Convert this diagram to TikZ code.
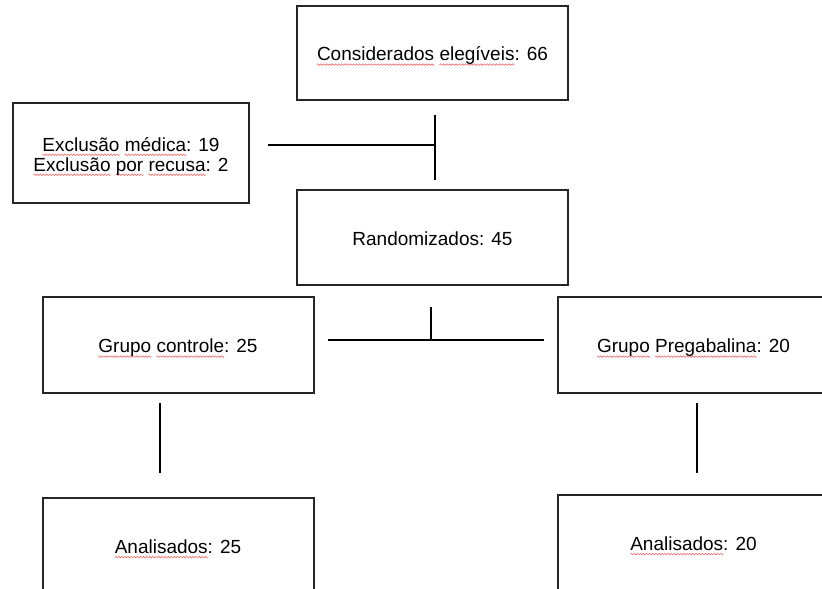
\documentclass[tikz,border=0pt]{standalone}
\usepackage{fontspec}
\setmainfont{Liberation Sans}
\definecolor{sqred}{RGB}{232,110,110}
\newsavebox\wavebox
\newlength\sqlen
\newcommand\sq[1]{\setbox0\hbox{#1}\sqlen=\wd0\relax\rlap{\raisebox{-3.8pt}[0pt][0pt]{\xleaders\copy\wavebox\hskip\sqlen}}\box0\relax}
\begin{document}
\sbox\wavebox{\begin{pgfpicture}\pgfsetbaseline{0pt}%
\pgfpathrectangle{\pgfpoint{0pt}{-0.8pt}}{\pgfpoint{3pt}{1.6pt}}\pgfusepath{use as bounding box}%
\pgfsetlinewidth{0.6pt}\pgfsetcolor{sqred}\pgfsetroundcap
\pgfpathmoveto{\pgfpoint{0pt}{0pt}}\pgfpathlineto{\pgfpoint{0.75pt}{0.8pt}}\pgfpathlineto{\pgfpoint{2.25pt}{-0.8pt}}\pgfpathlineto{\pgfpoint{3pt}{0pt}}\pgfusepath{stroke}%
\end{pgfpicture}}%
\begin{tikzpicture}[x=1pt,y=-1pt,
  box/.style={draw=black!85,line width=2pt,rectangle,minimum width=271pt,minimum height=95pt,
     inner sep=0pt,align=center,font=\fontsize{19}{20}\selectfont,text height=15.6pt,text depth=0pt},
  conn/.style={draw=black,line width=1.7pt}]
\useasboundingbox (0,0) rectangle (822,589);
\clip (0,0) rectangle (822,589);
\node[box,minimum height=94pt] (C) at (432.5,53) {\sq{Considerados} \sq{elegíveis}: 66};
\node[box,minimum width=236pt,minimum height=100pt,text height=40pt,text depth=4pt] (E) at (131,153) {\sq{Exclusão} \sq{médica}: 19\\\sq{Exclusão} \sq{por} \sq{recusa}: 2};
\node[box] (R) at (432.5,237.5) {Randomizados: 45};
\node[box,minimum height=96pt] (GC) at (178,345) {\sq{Grupo} \sq{controle}: 25};
\node[box,minimum height=96pt] (GP) at (693.5,345) {\sq{Grupo} \sq{Pregabalina}: 20};
\node[box] (AC) at (178,545.5) {\sq{Analisados}: 25};
\node[box] (AP) at (693.5,542.5) {\sq{Analisados}: 20};
% connectors
\coordinate (e1) at (268,145);
\coordinate (j1) at (435,145);
\coordinate (t1) at (435,115);
\coordinate (b1) at (435,180);
\draw[conn] (e1) -- (j1);
\draw[conn] (t1) -- (b1);
\coordinate (l2) at (328,340);
\coordinate (r2) at (543.6,340);
\coordinate (t2) at (431,307);
\coordinate (j2) at (431,340);
\draw[conn] (l2) -- (r2);
\draw[conn] (t2) -- (j2);
\coordinate (lt) at (160,403);
\coordinate (lb) at (160,473);
\draw[conn] (lt) -- (lb);
\coordinate (rt) at (697,403);
\coordinate (rb) at (697,473);
\draw[conn] (rt) -- (rb);
\end{tikzpicture}
\end{document}
